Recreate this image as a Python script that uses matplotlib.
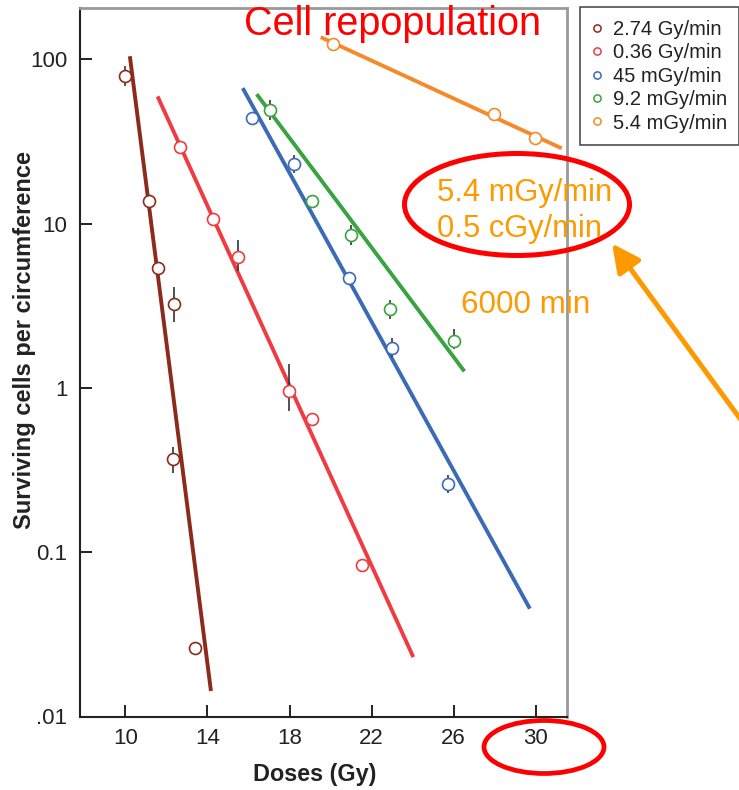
#!/usr/bin/env python3
"""
Survival of cells per circumference against dose, for five dose rates.
"""
import matplotlib
matplotlib.use('Agg')
import matplotlib.pyplot as plt
from matplotlib.lines import Line2D
from matplotlib.patches import Ellipse
from matplotlib.ticker import NullLocator

plt.rcParams['font.family'] = ['Liberation Sans', 'DejaVu Sans']

# Values (dose in Gy, surviving cells).
# None where a point has no error bar.
labels = ['2.74 Gy/min', '0.36 Gy/min', '45 mGy/min', '9.2 mGy/min',
          '5.4 mGy/min']
colors = ['#8c2a1c', '#ef3b41', '#3b6bb5', '#39a43f', '#f58a2a']

dose_a = [9.98, 11.14, 11.57, 12.38, 12.33, 13.39]
surv_a = [79.4, 13.65, 5.39, 3.23, 0.368, 0.026]
lo_a = [68.4, None, None, 2.52, 0.305, None]
hi_a = [91.4, None, None, 4.09, 0.436, None]
fit_dose_a = [10.22, 14.17]
fit_surv_a = [104.3, 0.0143]

dose_b = [12.66, 14.28, 15.50, 17.97, 19.11, 21.52]
surv_b = [29.4, 10.65, 6.27, 0.953, 0.649, 0.083]
lo_b = [None, None, 5.17, 0.719, None, None]
hi_b = [None, None, 7.96, 1.388, None, None]
fit_dose_b = [11.57, 24.03]
fit_surv_b = [59.4, 0.0230]

dose_c = [16.18, 18.22, 20.90, 23.00, 25.72]
surv_c = [43.8, 22.9, 4.64, 1.75, 0.26]
lo_c = [None, 20.2, None, 1.55, 0.229]
hi_c = [None, 26.1, None, 2.02, 0.295]
fit_dose_c = [15.72, 29.71]
fit_surv_c = [66.7, 0.0453]

dose_d = [17.05, 19.11, 20.98, 22.89, 26.03]
surv_d = [49.2, 13.7, 8.54, 3.01, 1.93]
lo_d = [42.7, None, 7.42, 2.62, 1.73]
hi_d = [56.1, None, 9.73, 3.43, 2.27]
fit_dose_d = [16.40, 26.52]
fit_surv_d = [61.3, 1.26]

dose_e = [20.13, 27.98, 29.98]
surv_e = [124.6, 46.3, 33.3]
lo_e = [None, None, None]
hi_e = [None, None, None]
fit_dose_e = [19.52, 31.26]
fit_surv_e = [136.3, 28.7]

xticks = [10, 14, 18, 22, 26, 30]
yticks = [100, 10, 1, 0.1, 0.01]
ytick_labels = ['100', '10', '1', '0.1', '.01']

series = [
    (dose_a, surv_a, lo_a, hi_a, fit_dose_a, fit_surv_a),
    (dose_b, surv_b, lo_b, hi_b, fit_dose_b, fit_surv_b),
    (dose_c, surv_c, lo_c, hi_c, fit_dose_c, fit_surv_c),
    (dose_d, surv_d, lo_d, hi_d, fit_dose_d, fit_surv_d),
    (dose_e, surv_e, lo_e, hi_e, fit_dose_e, fit_surv_e),
]

W, H = 739, 790
fig = plt.figure(figsize=(W / 100, H / 100), dpi=100)
ax = fig.add_axes([80 / W, 1 - 716.5 / H, 487 / W, 708.5 / H])

for (x, y, lo, hi, fx, fy), c in zip(series, colors):
    ax.plot(fx, fy, color=c, lw=2.8, solid_capstyle='butt', zorder=2)
    for xi, l, h in zip(x, lo, hi):
        if l is not None:
            ax.vlines(xi, l, h, color='#333333', lw=1.2, zorder=3)
    ax.plot(x, y, 'o', ls='none', mfc='white', mec=c, ms=8.6, mew=1.2,
            zorder=4)

ax.set_yscale('log')
ax.set_xlim(7.79, 31.52)
ax.set_ylim(0.01, 205)
ax.set_xticks(xticks)
ax.set_yticks(yticks)
ax.set_yticklabels(ytick_labels)
ax.yaxis.set_minor_locator(NullLocator())
ax.xaxis.set_minor_locator(NullLocator())
ax.tick_params(direction='in', length=8.5, width=1.4, labelsize=16,
               colors='#222222')
ax.tick_params(axis='x', pad=8)
ax.tick_params(axis='y', pad=9)

for side in ('left', 'bottom'):
    ax.spines[side].set_color('#222222')
    ax.spines[side].set_linewidth(1.5)
for side in ('top', 'right'):
    ax.spines[side].set_color('#999999')
    ax.spines[side].set_linewidth(2.0)

ax.set_xlabel('Doses (Gy)', fontsize=16.8, fontweight='bold',
              color='#222222')
ax.set_ylabel('Surviving cells per circumference', fontsize=17,
              fontweight='bold', color='#222222')
ax.xaxis.set_label_coords(0.4825, -0.065)
ax.yaxis.set_label_coords(-0.09, 0.531)

# Legend, partly cut off by the right edge of the figure
handles = [Line2D([], [], ls='none', marker='o', mfc='white', mec=c,
                  ms=5.2, mew=1.1) for c in colors]
leg = fig.legend(handles, labels, loc='upper left',
                 bbox_to_anchor=(580 / W, 1 - 7.3 / H), fontsize=14.5,
                 frameon=True, fancybox=False, borderpad=0.62,
                 labelspacing=0.22, handlelength=0.45, handletextpad=0.55,
                 borderaxespad=0)
leg.get_frame().set_edgecolor('#222222')
leg.get_frame().set_linewidth(1.2)
for t in leg.get_texts():
    t.set_color('#222222')

# Annotations drawn in pixel coordinates on a transparent overlay
ov = fig.add_axes([0, 0, 1, 1], zorder=5)
ov.set_xlim(0, W)
ov.set_ylim(H, 0)
ov.set_axis_off()

red = '#ff0000'
orange = '#ff9900'
ov.text(393, 35, 'Cell repopulation', color=red, fontsize=28.5,
        ha='center', va='baseline')
ov.add_patch(Ellipse((517, 204.5), 225, 102, fill=False, ec=red, lw=3.6))
ov.add_patch(Ellipse((544, 747), 120, 53, fill=False, ec=red, lw=3.4))
ov.text(437, 200.7, '5.4 mGy/min', color=orange, fontsize=22.2,
        va='baseline')
ov.text(437, 237.3, '0.5 cGy/min', color=orange, fontsize=22.2,
        va='baseline')
ov.text(461, 313.3, '6000 min', color=orange, fontsize=22.6,
        va='baseline')
ov.annotate('', xy=(612, 243.5), xytext=(752, 435),
            arrowprops=dict(arrowstyle='-|>,head_length=0.85,head_width=0.42',
                            mutation_scale=20, lw=3.6, color=orange,
                            shrinkA=0, shrinkB=0),
            annotation_clip=False)

fig.savefig('out.png', dpi=100)
